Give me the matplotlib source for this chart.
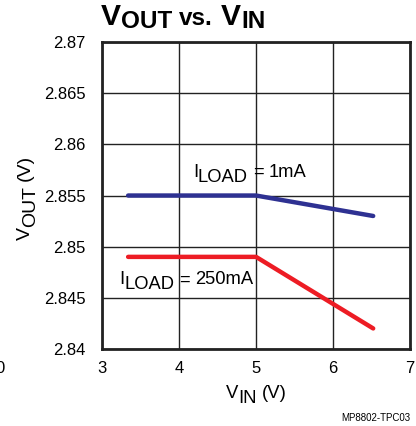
import matplotlib
matplotlib.use("Agg")
import matplotlib.pyplot as plt
from matplotlib.transforms import IdentityTransform

plt.rcParams['font.family'] = ['Liberation Sans', 'DejaVu Sans']

vin = [3.34, 5.0, 6.52]
vout_1ma = [2.855, 2.855, 2.853]
vout_250ma = [2.849, 2.849, 2.842]
xticks = [3, 4, 5, 6, 7]
yticks = [2.84, 2.845, 2.85, 2.855, 2.86, 2.865, 2.87]
ytick_labels = ["2.84", "2.845", "2.85", "2.855", "2.86", "2.865", "2.87"]

W, H, DPI = 4.16, 4.26, 100
fig = plt.figure(figsize=(W, H), dpi=DPI)
ax = fig.add_axes([0.245, 0.181, 0.741, 0.720])

ax.plot(vin, vout_1ma, color='#2E3192', lw=3.2, solid_capstyle='round')
ax.plot(vin, vout_250ma, color='#ED1C24', lw=3.2, solid_capstyle='round')

ax.set_xlim(3, 7)
ax.set_ylim(2.84, 2.87)
ax.set_xticks(xticks)
ax.set_yticks(yticks)
ax.set_yticklabels(ytick_labels)
ax.grid(True, color='#222222', lw=1.0)
ax.set_axisbelow(True)
ax.tick_params(axis='both', length=0, labelsize=12)
ax.tick_params(axis='y', pad=12)
ax.tick_params(axis='x', pad=9)
for s in ax.spines.values():
    s.set_linewidth(2.0)
    s.set_color('#222222')

fig.canvas.draw()
renderer = fig.canvas.get_renderer()
PX = DPI / 72.0


def draw_pieces(x, y, pieces, rotation=0):
    """x, y: baseline start in display pixels (origin bottom-left).
    pieces: (text, size_pt, drop_px, weight, gap_em_before)"""
    pos = 0.0
    for text, size, drop, weight, gap in pieces:
        pos += gap * size * PX
        if rotation == 0:
            tx, ty = x + pos, y - drop
        else:
            tx, ty = x + drop, y + pos
        t = fig.text(tx, ty, text, transform=IdentityTransform(), fontsize=size,
                     fontweight=weight, ha='left', va='baseline',
                     rotation=rotation, rotation_mode='anchor')
        bb = t.get_window_extent(renderer)
        pos += bb.width if rotation == 0 else bb.height


SP = 0.278
# title
draw_pieces(101, 426 - 25, [
    ("V", 21.6, 0, 'bold', 0),
    ("OUT", 17.5, 3, 'bold', 0),
    ("vs.", 17.5, 0, 'bold', SP),
    ("V", 21.6, 0, 'bold', SP),
    ("IN", 17.5, 3, 'bold', 0),
])

# x label
draw_pieces(226, 426 - 398, [
    ("V", 13.3, 0, 'normal', 0),
    ("IN", 13.3, 5, 'normal', 0),
    ("(V)", 13.3, 0, 'normal', SP),
])

# y label (rotated)
draw_pieces(30, 426 - 240, [
    ("V", 14, 0, 'normal', 0),
    ("OUT", 14, 5, 'normal', 0),
    ("(V)", 14, 0, 'normal', SP),
], rotation=90)

# curve annotations (anchored in data coordinates)
for (xd, yd), label in [((4.18, 2.8568), "1mA"), ((3.225, 2.8463), "250mA")]:
    px, py = ax.transData.transform((xd, yd))
    draw_pieces(px, py, [
        ("I", 13.2, 0, 'normal', 0),
        ("LOAD", 13.2, 5, 'normal', 0),
        ("=", 13.2, 0, 'normal', SP),
        (label, 13.2, 0, 'normal', SP),
    ])

fig.text(0.986, 0.012, "MP8802-TPC03", fontsize=7, ha='right', va='baseline')
fig.text(-0.012, 0.124, "0", fontsize=12, ha='left', va='baseline')

fig.savefig("out.png", dpi=DPI)
